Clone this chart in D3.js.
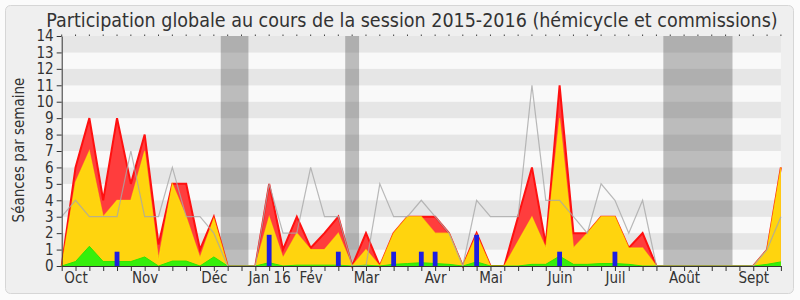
<!DOCTYPE html>
<html>
<head>
<meta charset="utf-8">
<script src="https://cdn.jsdelivr.net/npm/d3@7"></script>
<style>
  body { margin: 0; background: #fbfbfb; }
  svg text { font-family: "DejaVu Sans Condensed", "DejaVu Sans", sans-serif; font-stretch: condensed; fill: #333; }
</style>
</head>
<body>
<div id="chart"></div>
<script>
// weeks of the session, Sept 2015 -> Sept 2016 (index of the week)
const weeks = d3.range(53);
const monthLabels = ["Oct", "Nov", "Déc", "Jan 16", "Fév", "Mar", "Avr", "Mai", "Juin", "Juil", "Août", "Sept"];
const monthWeeks = [1, 6, 11, 15, 18, 22, 27, 31, 36, 40, 45, 50];
// parliamentary holidays, in week units
const holidays = [[11.5, 13.5], [20.5, 21.5], [43.5, 48.5]];

// top of the red area (total)
const redValues = [0, 6, 9, 4, 9, 5, 8, 1.3, 5, 5, 1, 3, 0, 0, 0, 5, 1, 3, 1.1, 2, 3, 0, 2, 0, 2, 3, 3, 3, 2, 0,
  2, 0, 0, 3, 6, 1.3, 11, 2, 2, 3, 3, 1.1, 2, 0, 0, 0, 0, 0, 0, 0, 0, 1, 6];
// top of the yellow area
const yellowValues = [0, 5.1, 7, 3, 4, 4, 7, 0.4, 5, 3, 0.5, 2.9, 0, 0, 0, 3, 0.5, 2, 1, 1, 2, 0, 1, 0, 2, 3, 3, 2, 2, 0,
  1.9, 0, 0, 1.5, 3, 1.1, 9, 1.1, 2, 3, 3, 1.1, 1.1, 0, 0, 0, 0, 0, 0, 0, 0, 1, 6];
// green area
const greenValues = [0, 0.27, 1.2, 0.27, 0.27, 0.27, 0.55, 0, 0.3, 0.3, 0, 0.55, 0, 0, 0, 0.2, 0, 0.05, 0.05, 0.05, 0.05, 0, 0.05, 0,
  0.1, 0.15, 0.2, 0.15, 0.1, 0, 0.25, 0, 0, 0, 0.1, 0.1, 0.6, 0.1, 0.1, 0.15, 0.15, 0.1, 0, 0, 0, 0, 0, 0, 0, 0, 0, 0.1, 0.25];
// gray line (median)
const medianValues = [3, 4, 3, 3, 3, 7, 3, 3, 6, 3, 3, 2, 0, 0, 0, 5, 2, 2, 6, 3, 3, 0, 0, 5, 3, 3, 4, 3, 2, 0,
  4, 3, 3, 3, 11, 4, 4, 3, 2, 5, 4, 2, 4, 0, 0, 0, 0, 0, 0, 0, 0, 1, 3];
// blue bars
const blueValues = [0, 0, 0, 0, 0.87, 0, 0, 0, 0, 0, 0, 0, 0, 0, 0, 1.9, 0, 0, 0, 0, 0.87, 0, 0, 0, 0.87, 0, 0.87, 0.87, 0, 0,
  1.9, 0, 0, 0, 0, 0, 0.87, 0, 0, 0, 0.87, 0, 0, 0, 0, 0, 0, 0, 0, 0, 0, 0, 0];

const width = 800;
const height = 300;
const marginLeft = 61.7;
const marginRight = 19.1;
const marginTop = 36;
const marginBottom = 34;

const x = d3.scaleLinear().domain([0, 52]).range([marginLeft, width - marginRight]);
const y = d3.scaleLinear().domain([0, 14]).range([height - marginBottom, marginTop]);

const svg = d3
  .select("#chart")
  .append("svg")
  .attr("width", width)
  .attr("height", height)
  .attr("viewBox", [0, 0, width, height]);

// outer frame
svg
  .append("rect")
  .attr("x", 5.5)
  .attr("y", 5.5)
  .attr("width", 788)
  .attr("height", 288)
  .attr("rx", 5)
  .attr("fill", "#efefef")
  .attr("stroke", "#d6d6d6");

svg
  .append("text")
  .attr("x", 412)
  .attr("y", 27)
  .attr("text-anchor", "middle")
  .style("font-size", "19.5px")
  .text("Participation globale au cours de la session 2015-2016 (hémicycle et commissions)");

// background stripes
svg
  .append("g")
  .selectAll("rect")
  .data(d3.range(14))
  .join("rect")
  .attr("x", x(0))
  .attr("width", x(52) - x(0))
  .attr("y", (d) => y(d + 1))
  .attr("height", (d) => y(d) - y(d + 1))
  .attr("fill", (d) => (d % 2 === 1 ? "#e6e6e6" : "#f9f9f9"));

// holidays
svg
  .append("g")
  .selectAll("rect")
  .data(holidays)
  .join("rect")
  .attr("x", (d) => x(d[0]))
  .attr("width", (d) => x(d[1]) - x(d[0]))
  .attr("y", y(14))
  .attr("height", y(0) - y(14))
  .attr("fill", "#3b3b3b")
  .attr("fill-opacity", 0.32);

const area = (values) =>
  d3
    .area()
    .x((d) => x(d))
    .y0(y(0))
    .y1((d) => y(values[d]));

const line = (values) =>
  d3
    .line()
    .x((d) => x(d))
    .y((d) => y(values[d]));

svg.append("path").datum(weeks).attr("d", area(redValues)).attr("fill", "#ff3d3d");
svg
  .append("path")
  .datum(weeks)
  .attr("d", line(redValues))
  .attr("fill", "none")
  .attr("stroke", "#ff1010")
  .attr("stroke-width", 2);

svg.append("path").datum(weeks).attr("d", area(yellowValues)).attr("fill", "#ffd40e");
svg
  .append("path")
  .datum(weeks)
  .attr("d", line(yellowValues))
  .attr("fill", "none")
  .attr("stroke", "#ffee00")
  .attr("stroke-opacity", 0.6)
  .attr("stroke-width", 1.2);

svg.append("path").datum(weeks).attr("d", area(greenValues)).attr("fill", "#36ef0c");
svg
  .append("path")
  .datum(weeks)
  .attr("d", line(greenValues))
  .attr("fill", "none")
  .attr("stroke", "#2ee600")
  .attr("stroke-width", 1);

svg
  .append("path")
  .datum(weeks)
  .attr("d", line(medianValues))
  .attr("fill", "none")
  .attr("stroke", "#a8a8a8")
  .attr("stroke-opacity", 0.8)
  .attr("stroke-width", 1.2);

// blue bars
svg
  .append("g")
  .selectAll("rect")
  .data(weeks.filter((i) => blueValues[i] > 0))
  .join("rect")
  .attr("x", (i) => x(i) - 2.4)
  .attr("width", 4.8)
  .attr("y", (i) => y(blueValues[i]))
  .attr("height", (i) => y(0) - y(blueValues[i]))
  .attr("fill", "#1e1ee0");

// top dots
svg
  .append("g")
  .selectAll("rect")
  .data(weeks)
  .join("rect")
  .attr("x", (d) => x(d) - 0.5)
  .attr("y", marginTop - 1.5)
  .attr("width", 1)
  .attr("height", 1.5)
  .attr("fill", "#444");

// y axis
svg
  .append("g")
  .attr("transform", `translate(${x(0)},0)`)
  .call(d3.axisLeft(y).tickValues(d3.range(15)).tickSize(5).tickPadding(3).tickSizeOuter(0))
  .call((g) => g.selectAll("text").style("font-size", "15px"))
  .call((g) => g.selectAll("line, path").attr("stroke", "#333"));

svg
  .append("text")
  .attr("transform", "translate(24,150) rotate(-90)")
  .attr("text-anchor", "middle")
  .style("font-size", "15px")
  .text("Séances par semaine");

// x axis
svg
  .append("g")
  .attr("transform", `translate(0,${y(0)})`)
  .call(d3.axisBottom(x).tickValues(weeks).tickFormat("").tickSize(5).tickSizeOuter(0))
  .call((g) => g.selectAll("line, path").attr("stroke", "#333"));

svg
  .append("g")
  .attr("transform", `translate(0,${y(0)})`)
  .call(
    d3
      .axisBottom(x)
      .tickValues(monthWeeks)
      .tickFormat((d, i) => monthLabels[i])
      .tickSize(0)
      .tickPadding(6.5)
  )
  .call((g) => g.select(".domain").remove())
  .call((g) => g.selectAll("text").style("font-size", "15px"));
</script>
</body>
</html>
